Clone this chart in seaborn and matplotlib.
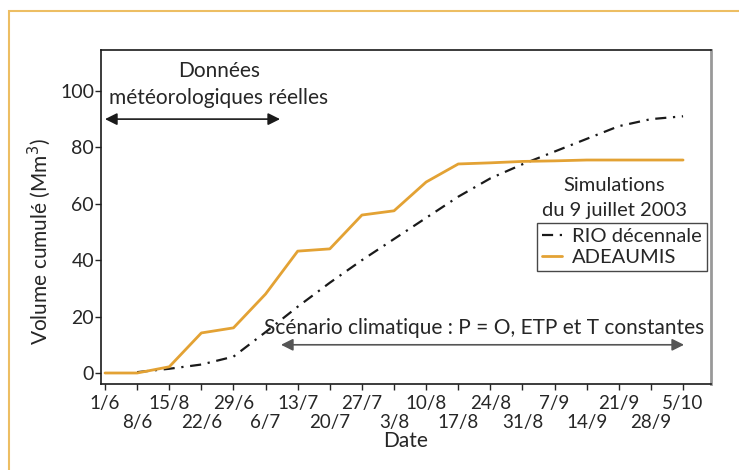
import numpy as np
import pandas as pd
import matplotlib
matplotlib.use("Agg")
import matplotlib.pyplot as plt
import seaborn as sns
from matplotlib.patches import Rectangle

# valeurs (une valeur par semaine)
dates = ['1/6', '8/6', '15/8', '22/6', '29/6', '6/7', '13/7', '20/7', '27/7', '3/8',
         '10/8', '17/8', '24/8', '31/8', '7/9', '14/9', '21/9', '28/9', '5/10']
adeaumis = [0, 0, 2.2, 14.2, 16, 28, 43.2, 44, 56, 57.5,
            67.7, 74.1, 74.5, 75, 75.2, 75.5, 75.5, 75.5, 75.5]
rio = [np.nan, 0.3, 1.5, 3, 5.8, 14.5, 23.5, 32, 40, 47.5,
       55, 62.5, 69, 74, 78.5, 83, 87.5, 90, 91]

semaine = np.arange(len(dates))
df = pd.DataFrame({'semaine': semaine, 'ADEAUMIS': adeaumis, 'RIO décennale': rio})

sns.set_style("white")
plt.rcParams['font.family'] = ['Lato', 'DejaVu Sans']

fig = plt.figure(figsize=(7.39, 4.70), dpi=100)
ax = fig.add_axes([101 / 739, 1 - 384 / 470, 610 / 739, 334 / 470])

# cadre orange de la figure
fig.patches.append(Rectangle((9 / 739, -0.1), 1.2, 1 - 11 / 470 + 0.1,
                             transform=fig.transFigure, fill=False,
                             edgecolor='#EDBE63', lw=1.5))

sns.lineplot(data=df, x='semaine', y='RIO décennale', ax=ax, color='#1a1a1a',
             lw=1.6, linestyle=(0, (5, 3, 1, 3)), label='RIO décennale')
sns.lineplot(data=df, x='semaine', y='ADEAUMIS', ax=ax, color='#E3A234',
             lw=2.0, label='ADEAUMIS')

ax.set_xlim(-0.125, 18.87)
ax.set_ylim(-3.9, 114.5)

ax.set_yticks([0, 20, 40, 60, 80, 100])
ax.tick_params(axis='y', direction='out', length=4, width=1, labelsize=14, pad=1, left=True)
ax.set_xticks(semaine[::2])
ax.set_xticklabels(dates[::2])
ax.set_xticks(semaine[1::2], minor=True)
ax.set_xticklabels(dates[1::2], minor=True)
ax.tick_params(axis='x', which='major', direction='out', length=4, width=1,
               labelsize=13.5, pad=4, bottom=True)
ax.tick_params(axis='x', which='minor', direction='out', length=4, width=1,
               labelsize=13.5, pad=17.5, bottom=True)

ax.set_xlabel('Date', fontsize=15, labelpad=0)
ax.set_ylabel('Volume cumulé (Mm$^3$)', fontsize=15)
ax.yaxis.set_label_coords(-0.079, 0.425)

for s in ['left', 'top', 'bottom']:
    ax.spines[s].set_color('#1a1a1a')
    ax.spines[s].set_linewidth(1.2)
ax.spines['right'].set_color('#999999')
ax.spines['right'].set_linewidth(2)

# flèches et annotations
ax.annotate('', xy=(0, 90), xytext=(5.45, 90),
            arrowprops=dict(arrowstyle='<|-|>', color='#1a1a1a', lw=1.2, mutation_scale=18,
                            shrinkA=0, shrinkB=0))
ax.text(3.55, 107, 'Données', ha='center', va='center', fontsize=15)
ax.text(3.55, 97.5, 'météorologiques réelles', ha='center', va='center', fontsize=15)

ax.annotate('', xy=(5.48, 10), xytext=(18.03, 10),
            arrowprops=dict(arrowstyle='<|-|>', color='#555555', lw=1.2, mutation_scale=18,
                            shrinkA=0, shrinkB=0))
ax.text(11.8, 16, 'Scénario climatique : P = O, ETP et T constantes',
        ha='center', va='center', fontsize=15)

ax.text(15.85, 66.3, 'Simulations', ha='center', va='center', fontsize=14.5)
ax.text(15.85, 57.5, 'du 9 juillet 2003', ha='center', va='center', fontsize=14.5)

leg = ax.legend(loc='upper right', bbox_to_anchor=(0.993, 0.483), fontsize=14.5,
                frameon=True, fancybox=False, handlelength=1.0, handletextpad=0.5,
                borderpad=0.25, labelspacing=0.2, borderaxespad=0)
leg.get_frame().set_edgecolor('#1a1a1a')
leg.get_frame().set_linewidth(1)

fig.savefig('out.png', dpi=100)
